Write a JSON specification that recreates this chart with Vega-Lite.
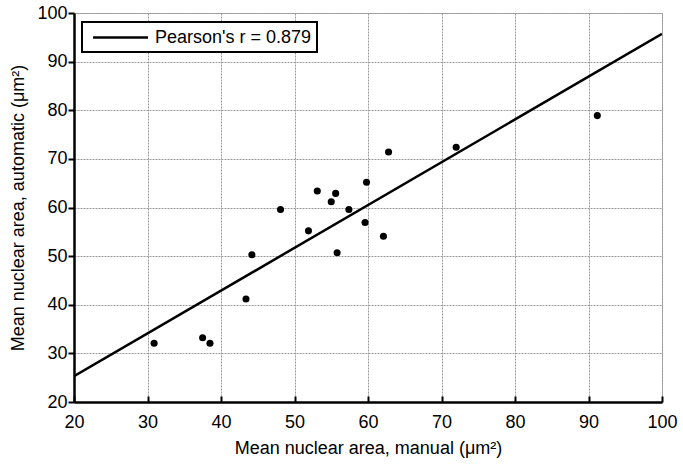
{
  "$schema": "https://vega.github.io/schema/vega-lite/v6.json",
  "autosize": {"type": "none"},
  "padding": {"left": 74, "top": 13, "right": 21, "bottom": 62},
  "width": 588,
  "height": 389,
  "background": "white",
  "config": {
    "font": "Liberation Sans",
    "view": {"stroke": "#b0b0b0", "strokeWidth": 1},
    "axis": {
      "labelFont": "Liberation Sans",
      "titleFont": "Liberation Sans",
      "labelFontSize": 18,
      "titleFontSize": 18,
      "titleFontWeight": "normal",
      "labelColor": "black",
      "titleColor": "black",
      "domainColor": "black",
      "domainWidth": 2.5,
      "tickColor": "black",
      "tickWidth": 2,
      "gridColor": "#9a9a9a",
      "gridWidth": 1,
      "gridDash": [2, 1]
    },
    "legend": {
      "strokeWidth": 2
    }
  },
  "datasets": {
    "pts": [
      {"manual": 30.9, "automatic": 32.1},
      {"manual": 37.5, "automatic": 33.2},
      {"manual": 38.5, "automatic": 32.1},
      {"manual": 43.4, "automatic": 41.2},
      {"manual": 44.2, "automatic": 50.3},
      {"manual": 48.1, "automatic": 59.6},
      {"manual": 51.9, "automatic": 55.2},
      {"manual": 53.1, "automatic": 63.4},
      {"manual": 55.0, "automatic": 61.2},
      {"manual": 55.6, "automatic": 62.9},
      {"manual": 55.8, "automatic": 50.7},
      {"manual": 57.4, "automatic": 59.6},
      {"manual": 59.6, "automatic": 56.9},
      {"manual": 59.8, "automatic": 65.2},
      {"manual": 62.1, "automatic": 54.1},
      {"manual": 62.8, "automatic": 71.4},
      {"manual": 72.0, "automatic": 72.4},
      {"manual": 91.2, "automatic": 78.9}
    ],
    "fit": [
      {"manual": 20, "automatic": 25.3, "series": "Pearson's r = 0.879"},
      {"manual": 100, "automatic": 95.7, "series": "Pearson's r = 0.879"}
    ]
  },
  "layer": [
    {
      "data": {"name": "fit"},
      "mark": {"type": "line", "strokeWidth": 2.5, "clip": true},
      "encoding": {
        "x": {
          "field": "manual",
          "type": "quantitative",
          "scale": {"domain": [20, 100], "nice": false},
          "axis": {
            "title": "Mean nuclear area, manual (μm²)",
            "values": [20, 30, 40, 50, 60, 70, 80, 90, 100],
            "tickSize": -6,
            "labelPadding": 17,
            "titlePadding": 8,
            "labelFlush": false
          }
        },
        "y": {
          "field": "automatic",
          "type": "quantitative",
          "scale": {"domain": [20, 100], "nice": false},
          "axis": {
            "title": "Mean nuclear area, automatic (μm²)",
            "values": [20, 30, 40, 50, 60, 70, 80, 90, 100],
            "tickSize": 6,
            "labelPadding": 1,
            "titlePadding": 9,
            "labelFlush": false
          }
        },
        "color": {
          "field": "series",
          "type": "nominal",
          "scale": {"range": ["black"]},
          "legend": {
            "title": null,
            "orient": "none",
            "legendX": 8,
            "legendY": 9,
            "symbolType": "M-3.056,0H3.056",
            "symbolSize": 324,
            "symbolStrokeWidth": 2.5,
            "symbolStrokeColor": "black",
            "symbolFillColor": "transparent",
            "symbolOffset": 23,
            "labelOffset": 24,
            "labelFontSize": 18,
            "labelFont": "Liberation Sans",
            "labelColor": "black",
            "strokeColor": "black",
            "fillColor": "white",
            "padding": 5
          }
        }
      }
    },
    {
      "data": {"name": "pts"},
      "mark": {"type": "circle", "size": 50, "color": "black", "opacity": 1},
      "encoding": {
        "x": {"field": "manual", "type": "quantitative"},
        "y": {"field": "automatic", "type": "quantitative"}
      }
    }
  ]
}
